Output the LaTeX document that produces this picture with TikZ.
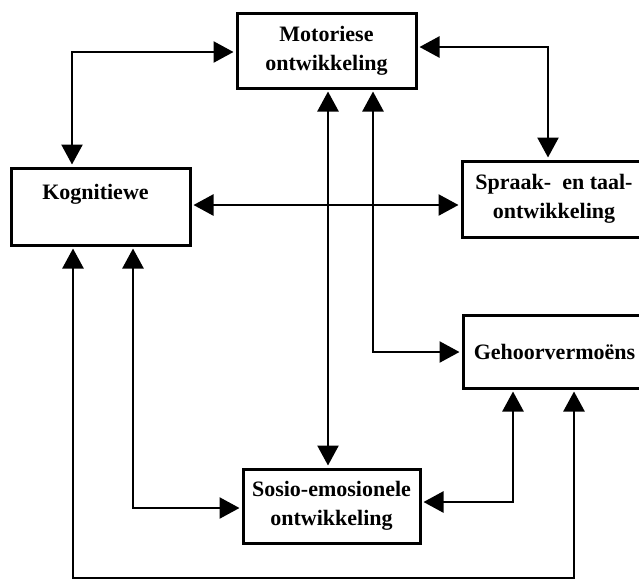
\documentclass[tikz,border=0pt]{standalone}
\usepackage{fontspec}
\setmainfont{Liberation Serif}
\usetikzlibrary{arrows.meta}
\begin{document}
\begin{tikzpicture}[x=1pt,y=-1pt,
  box/.style={draw, line width=3pt, rectangle, align=center, inner sep=0pt,
    font=\fontsize{22}{29}\selectfont\bfseries},
  tip/.tip={Triangle[length=20pt,width=21pt]},
  biarrow/.style={line width=2.5pt, tip-tip, shorten <=2pt, shorten >=2pt}]
\useasboundingbox (0,0) rectangle (639,582);
\clip (0,0) rectangle (639,582);
\node[box, minimum width=179pt, minimum height=75pt] (mot) at (326.5,50.5) {Motoriese\\ontwikkeling};
\node[box, minimum width=179pt, minimum height=77pt] (kog) at (100.5,206.5) {\hspace*{-10pt}Kognitiewe\\\mbox{}};
\node[box, minimum width=184pt, minimum height=76pt] (spr) at (554,199) {Spraak-\ \ en taal-\\ontwikkeling};
\node[box, minimum width=183pt, minimum height=73pt] (geh) at (554.5,351.5) {Gehoorvermoëns};
\node[box, minimum width=177pt, minimum height=74pt] (sos) at (331.5,506) {Sosio-emosionele\\ontwikkeling};
\coordinate (bl) at (73,578);
\draw[biarrow] (kog.north -| 72,0) |- (mot.west |- 0,52);
\draw[biarrow] (mot.east |- 0,47) -| (spr.north -| 548,0);
\draw[biarrow] (kog.east |- 0,205) -- (spr.west |- 0,205);
\draw[biarrow] (mot.south -| 328,0) -- (sos.north -| 328,0);
\draw[biarrow] (mot.south -| 373,0) |- (geh.west |- 0,352);
\draw[biarrow] (kog.south -| 133,0) |- (sos.west |- 0,508);
\draw[biarrow] (kog.south -| 73,0) -- (bl) -| (geh.south -| 574,0);
\draw[biarrow] (sos.east |- 0,502) -| (geh.south -| 513,0);
\end{tikzpicture}
\end{document}
